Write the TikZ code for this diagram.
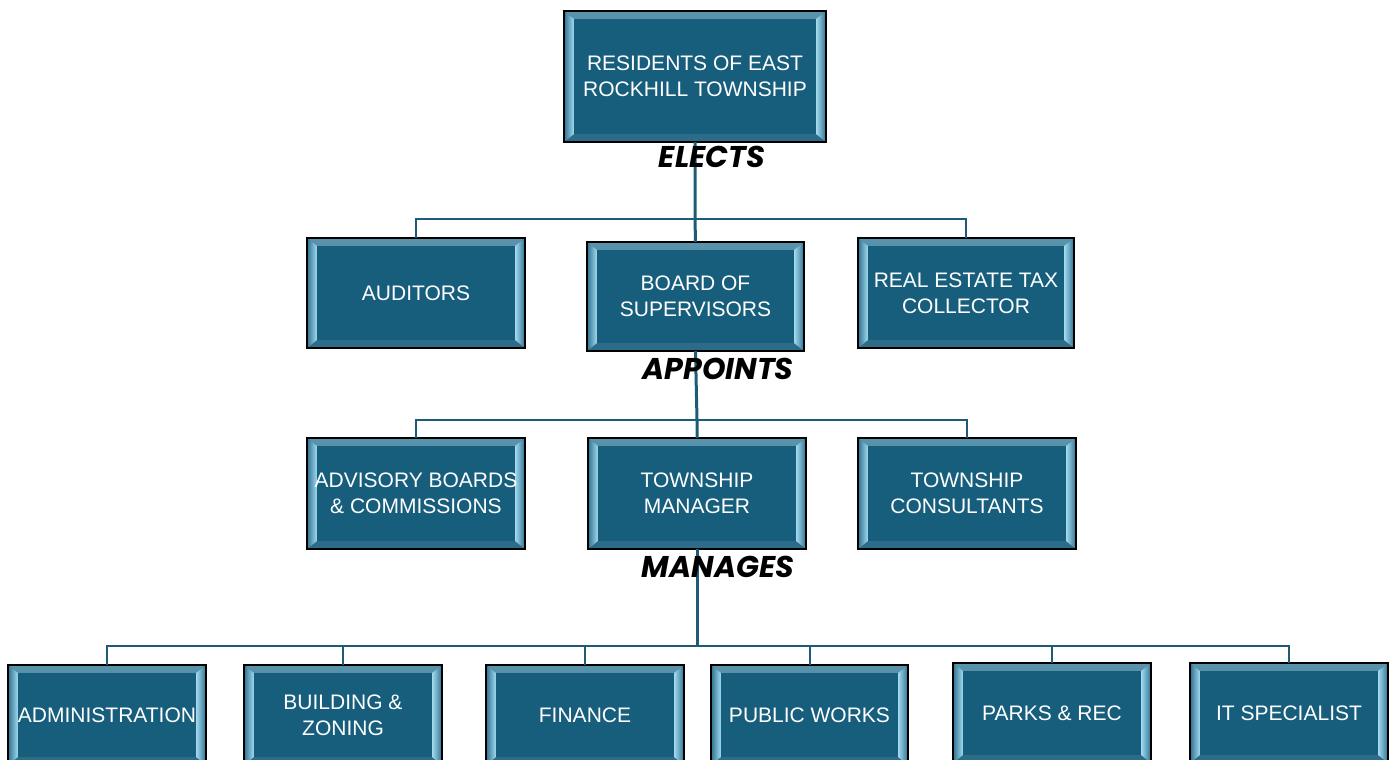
\documentclass[tikz,border=0pt]{standalone}
\usepackage{fontspec}
\setmainfont{Liberation Sans}
\newfontfamily\lblfamily{Poppins}
\definecolor{boxfill}{HTML}{175E7D}
\definecolor{bevtop}{HTML}{5A93AC}
\definecolor{bevbot}{HTML}{2C6C89}
\definecolor{bevside}{HTML}{2F7190}
\definecolor{bevlight}{HTML}{A2DBF0}
\definecolor{conncol}{HTML}{1D5B78}
\tikzset{
  orgbox/.style={minimum width=218pt, minimum height=110pt, inner sep=2pt,
    fill=boxfill, text=white, align=center,
    font=\fontsize{21}{26}\selectfont,
    path picture={
      \def\pb{path picture bounding box}
      \shade[top color=bevtop, bottom color=bevbot] (\pb.north west) -- (\pb.north east) -- ([xshift=-10pt,yshift=-8pt]\pb.north east) -- ([xshift=10pt,yshift=-8pt]\pb.north west) -- cycle;
      \fill[bevbot] (\pb.south west) -- (\pb.south east) -- ([xshift=-10pt,yshift=8pt]\pb.south east) -- ([xshift=10pt,yshift=8pt]\pb.south west) -- cycle;
      \shade[left color=bevside, right color=bevlight] (\pb.north west) -- ([xshift=10pt,yshift=-8pt]\pb.north west) -- ([xshift=10pt,yshift=8pt]\pb.south west) -- (\pb.south west) -- cycle;
      \shade[right color=bevside, left color=bevlight] (\pb.north east) -- ([xshift=-10pt,yshift=-8pt]\pb.north east) -- ([xshift=-10pt,yshift=8pt]\pb.south east) -- (\pb.south east) -- cycle;
      \fill[boxfill] ([xshift=10pt,yshift=-8pt]\pb.north west) rectangle ([xshift=-10pt,yshift=8pt]\pb.south east);
    },
    postaction={draw=black, line width=1.6pt}},
  conn/.style={draw=conncol, line width=2pt},
  trunk/.style={draw=conncol, line width=3pt},
  lbl/.style={font=\lblfamily\bfseries\itshape\fontsize{30}{34}\selectfont, text=black}
}
\begin{document}
\begin{tikzpicture}[x=1pt,y=-1pt]
\useasboundingbox (0,0) rectangle (1393,760);
\clip (0,0) rectangle (1393,760);
% top
\node[orgbox, minimum width=262pt, minimum height=131pt] (res) at (695,76.5) {RESIDENTS OF EAST\\ROCKHILL TOWNSHIP};
% row 2
\node[orgbox] (aud) at (416,293) {AUDITORS};
\node[orgbox, minimum width=217pt, minimum height=109pt] (brd) at (695.5,296.5) {BOARD OF\\SUPERVISORS};
\node[orgbox, minimum width=216pt] (rec) at (966,293) {REAL ESTATE TAX\\COLLECTOR};
% row 3
\node[orgbox, minimum height=111pt] (adv) at (416,493.5) {ADVISORY BOARDS\\\& COMMISSIONS};
\node[orgbox, minimum height=111pt] (tm) at (697,493.5) {TOWNSHIP\\MANAGER};
\node[orgbox, minimum height=111pt] (con) at (967,493.5) {TOWNSHIP\\CONSULTANTS};
% row 4
\node[orgbox, minimum width=198pt, minimum height=100pt] (adm) at (107,715) {ADMINISTRATION};
\node[orgbox, minimum width=198pt, minimum height=100pt] (bz) at (343,715) {BUILDING \&\\ZONING};
\node[orgbox, minimum width=198pt, minimum height=100pt] (fin) at (585,715) {FINANCE};
\node[orgbox, minimum width=197pt, minimum height=100pt] (pw) at (809.5,715) {PUBLIC WORKS};
\node[orgbox, minimum width=198pt, minimum height=100pt] (pr) at (1052,713) {PARKS \& REC};
\node[orgbox, minimum width=198pt, minimum height=100pt] (it) at (1289,713) {IT SPECIALIST};
% junctions
\coordinate (j1) at (695,219);
\coordinate (j2) at (697,420);
\coordinate (j3) at (697,646);
% connectors
\draw[conn] (aud.north) |- (j1) -| (rec.north);
\draw[trunk] (res.south) -- (j1) -- (brd.north);
\draw[conn] (adv.north) |- (j2) -| (con.north);
\draw[trunk] (brd.south) -- (j2) -- (tm.north);
\draw[conn] (adm.north) |- (j3) -| (it.north);
\draw[conn] (bz.north) -- (bz.north |- j3);
\draw[conn] (fin.north) -- (fin.north |- j3);
\draw[conn] (pw.north) -- (pw.north |- j3);
\draw[conn] (pr.north) -- (pr.north |- j3);
\draw[trunk] (tm.south) -- (j3);
% labels
\node[lbl] (elects) at (712,157) {ELECTS};
\node[lbl] (appoints) at (718,369) {APPOINTS};
\node[lbl] (manages) at (718,567) {MANAGES};
\end{tikzpicture}
\end{document}
